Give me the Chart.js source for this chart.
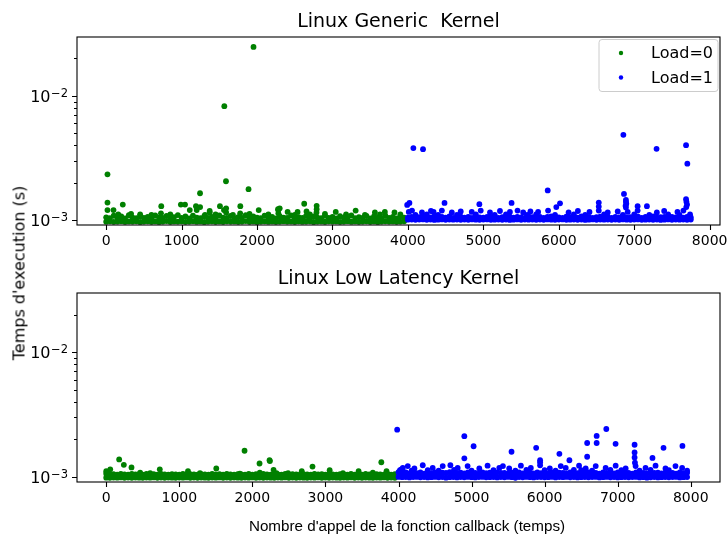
<!DOCTYPE html>
<html>
<head>
<meta charset="utf-8">
<script src="https://cdn.jsdelivr.net/npm/chart.js@4.4.0/dist/chart.umd.min.js"></script>
<style>
  body { margin: 0; background: #fff; width: 728px; height: 536px; position: relative; overflow: hidden; }
  canvas { position: absolute; left: 0; }
  #generic { top: 0; }
  #lowlat { top: 260px; }
  #ylabel { position: absolute; left: 19px; top: 273px; transform: translate(-50%, -50%) rotate(-90deg);
            font: 16px "DejaVu Sans"; white-space: nowrap; color: #000; }
  #xlabel { position: absolute; left: 407px; top: 525px; transform: translate(-50%, -50%);
            font: 15.2px "Liberation Sans"; white-space: nowrap; color: #000; }
</style>
</head>
<body>
<canvas id="generic" width="728" height="260"></canvas>
<canvas id="lowlat" width="728" height="276"></canvas>
<div id="ylabel">Temps d'execution (s)</div>
<div id="xlabel">Nombre d'appel de la fonction callback (temps)</div>
<script>
// execution times in microseconds, band rows sampled every 50 calls
const bandStep = 50;
const xTicks = [0, 1000, 2000, 3000, 4000, 5000, 6000, 7000, 8000];
const yTicks = [0.001, 0.002, 0.003, 0.004, 0.005, 0.006, 0.007, 0.008, 0.009, 0.01, 0.02, 0.03];
const yLabels = { '0.001': '\u22123', '0.01': '\u22122' };  // exponent shown after "10"

// Linux Generic Kernel, Load=0 (calls 0..3999)
const genericLoad0Low = [968,974,965,971,977,966,972,969,975,963,970,976,967,973,964,971,978,966,972,969,
  974,965,970,977,968,973,964,971,975,967,972,966,976,969,973,965,970,978,967,972,
  964,971,975,968,973,966,970,977,969,972,965,974,968,971,976,964,970,973,967,975,
  969,972,965,971,977,968,973,966,970,975,967,972,964,971,976,969,973,966,970,974];
const genericLoad0High = [1050,1035,1080,1040,1065,1030,1090,1045,1035,1070,1040,1060,1030,1085,1045,1040,1075,1035,1055,1095,
  1040,1065,1030,1080,1045,1035,1070,1040,1060,1030,1085,1045,1040,1075,1035,1055,1040,1090,1030,1065,
  1045,1035,1080,1040,1060,1030,1070,1045,1040,1085,1035,1055,1040,1075,1030,1065,1045,1035,1080,1040,
  1060,1030,1070,1045,1040,1085,1035,1055,1040,1075,1030,1065,1045,1035,1080,1040,1060,1030,1070,1045];
const genericLoad0Extra = [[17,2330],[1953,24800],[1566,8250],[1588,2050],[1244,1640],[1887,1770],
  [17,1380],[220,1330],[990,1330],[1045,1330],[730,1290],[1190,1290],[1245,1270],[1508,1290],[1590,1240],
  [1778,1290],[2625,1350],[2790,1300],[2790,1220],[2278,1220],[2300,1240],
  [17,1200],[97,1200],[1108,1200],[1200,1200],[1372,1180],[1561,1200],[2022,1200],[2282,1200],[2405,1160],
  [2537,1160],[2656,1170],[2788,1150],[3043,1160],[3307,1190],[3562,1150],[3694,1160],[3822,1150],
  [726,1130],[1776,1130],[2282,1130],[1590,1150],[1372,1150],
  [160,1110],[330,1120],[450,1110],[600,1100],[850,1110],[1310,1100],[1450,1110],[1680,1100],[1900,1120],
  [2150,1110],[2500,1100],[2700,1110],[2900,1120],[3180,1110],[3430,1100],[3630,1110],[3900,1110]];

// Linux Generic Kernel, Load=1 (calls 4000..7750)
const genericLoad1Low = [1004,1008,1001,1006,1010,1003,1007,1000,1005,1009,1002,1006,1004,1008,1001,1007,1003,1010,1005,1002,
  1006,1009,1001,1004,1008,1003,1007,1000,1005,1009,1002,1006,1004,1008,1001,1007,1003,1010,1005,1002,
  1006,1009,1001,1004,1008,1003,1007,1000,1005,1009,1002,1006,1004,1008,1001,1007,1003,1010,1005,1002,
  1006,1009,1001,1004,1008,1003,1007,1000,1005,1009,1002,1006,1004,1008,1001,1007];
const genericLoad1High = [1045,1060,1040,1055,1070,1042,1050,1065,1040,1058,1045,1068,1040,1052,1062,1044,1056,1040,1066,1048,
  1042,1060,1050,1070,1040,1055,1045,1064,1042,1058,1048,1040,1066,1052,1044,1060,1040,1056,1068,1045,
  1050,1040,1062,1048,1055,1042,1066,1045,1058,1040,1052,1064,1044,1056,1040,1060,1048,1070,1042,1055,
  1045,1062,1040,1058,1050,1066,1044,1052,1060,1040,1056,1048,1065,1045,1058,1050];
const genericLoad1Extra = [[4072,3790],[4200,3720],[6856,4850],[7296,3740],[7687,4000],[7704,2840],[5853,1730],[6864,1620],
  [6890,1450],[6890,1400],[6895,1350],[6885,1300],[6890,1260],[7687,1470],[7692,1400],[7700,1330],[7690,1270],
  [4020,1370],[3990,1320],[4485,1370],[4947,1340],[5374,1370],[6016,1360],[5967,1270],[6530,1380],[6530,1280],
  [7045,1290],[7168,1290],
  [4011,1160],[4054,1190],[4186,1150],[4305,1180],[4340,1160],[4450,1190],[4582,1150],[4700,1170],[4846,1160],
  [4965,1190],[5088,1150],[5220,1180],[5352,1160],[5453,1190],[5528,1150],[5624,1170],[5726,1160],[5858,1190],
  [6130,1150],[6253,1180],[6407,1160],[6530,1190],[6649,1150],[6781,1170],[6913,1160],[7045,1190],[7300,1150],
  [7397,1180],[7573,1160],[7652,1190],
  [4100,1100],[4250,1110],[4400,1100],[4650,1100],[4900,1110],[5150,1100],[5300,1110],[5580,1100],[5700,1110],
  [5950,1100],[6200,1110],[6350,1100],[6600,1110],[6850,1100],[7000,1110],[7200,1100],[7450,1110],[7600,1100],[7740,1110]];

// Linux Low Latency Kernel, Load=0 (calls 0..3999)
const lowLatLoad0Low = [986,983,988,985,990,984,987,982,989,986,983,988,985,990,984,987,982,989,986,983,
  988,985,990,984,987,982,989,986,983,988,985,990,984,987,982,989,986,983,988,985,
  990,984,987,982,989,986,983,988,985,990,984,987,982,989,986,983,988,985,990,984,
  987,982,989,986,983,988,985,990,984,987,982,989,986,983,988,985,990,984,987,982];
const lowLatLoad0High = [1060,1045,1052,1040,1058,1048,1042,1055,1046,1050,1040,1056,1044,1050,1042,1058,1046,1040,1053,1048,
  1044,1056,1042,1050,1046,1040,1054,1048,1043,1057,1045,1050,1040,1055,1047,1042,1052,1046,1040,1056,
  1044,1050,1042,1058,1046,1040,1053,1048,1044,1056,1042,1050,1046,1040,1054,1048,1043,1057,1045,1050,
  1040,1055,1047,1042,1052,1046,1040,1056,1044,1050,1042,1058,1046,1040,1053,1048,1044,1056,1042,1050];
const lowLatLoad0Extra = [[177,1380],[241,1250],[346,1190],[1893,1620],[2098,1280],[2235,1360],[2240,1340],[2290,1140],
  [3765,1310],[2823,1210],[733,1150],[55,1150],[0,1110],[1506,1170],[1119,1110],[2676,1110],[3058,1130],
  [3454,1110],[3836,1110],
  [464,1080],[601,1070],[1283,1070],[1829,1060],[2102,1080],[2330,1070],[2489,1070],[3240,1070],[3649,1080]];

// Linux Low Latency Kernel, Load=1 (calls 4000..7999)
const lowLatLoad1Low = [1000,994,998,991,996,1000,993,997,990,995,999,992,996,985,994,998,991,997,993,1000,
  995,990,996,999,992,994,998,991,996,993,1000,995,984,997,992,999,994,990,996,998,
  993,995,1000,991,997,994,999,992,996,990,995,998,993,997,1000,991,994,999,992,996,
  990,995,998,993,997,1000,991,994,986,992,996,990,995,998,993,997,1000,991,994,996];
const lowLatLoad1High = [1090,1075,1085,1065,1080,1070,1088,1062,1078,1072,1085,1066,1080,1074,1090,1064,1076,1082,1068,1086,
  1072,1078,1062,1084,1070,1080,1066,1088,1074,1078,1064,1082,1070,1086,1068,1076,1080,1065,1084,1072,
  1078,1066,1088,1070,1082,1074,1064,1086,1076,1070,1080,1068,1084,1072,1078,1062,1086,1074,1080,1066,
  1088,1070,1082,1076,1064,1084,1072,1078,1068,1086,1074,1080,1066,1082,1070,1078,1064,1084,1072,1080];
const lowLatLoad1Extra = [[3982,2390],[4901,2120],[5028,1760],[4901,1410],[5547,1590],[5884,1710],[5938,1360],[5938,1310],
  [6202,1530],[6339,1360],[6582,1870],[6582,1450],[6712,2130],[6712,1870],[6844,2420],[6971,1840],[7231,1810],
  [7231,1570],[7231,1430],[7236,1300],[7476,1420],[7627,1710],[7886,1770],
  [4059,1180],[4127,1220],[4218,1170],[4332,1240],[4468,1180],[4605,1220],[4710,1240],[4810,1180],[4946,1220],
  [5106,1170],[5219,1230],[5379,1180],[5429,1220],[5515,1170],[5675,1230],[5811,1180],[5938,1240],[6071,1170],
  [6221,1220],[6289,1180],[6471,1230],[6562,1170],[6699,1220],[6835,1180],[6972,1230],[7109,1170],[7245,1220],
  [7381,1180],[7518,1230],[7654,1170],[7791,1220],[7882,1180],
  [4020,1130],[4040,1150],[4180,1120],[4400,1130],[4550,1120],[4760,1140],[5000,1120],[5300,1130],[5600,1120],
  [5750,1140],[6000,1130],[6150,1120],[6400,1140],[6500,1130],[6650,1120],[6900,1140],[7050,1130],[7300,1120],
  [7450,1140],[7700,1130],[7950,1120]];

function buildPoints(start, low, high, extra) {
  const pts = [];
  low.forEach((v, i) => pts.push({ x: start + i * bandStep, y: v / 1e6 }));
  high.forEach((v, i) => pts.push({ x: start + i * bandStep, y: v / 1e6 }));
  extra.forEach(p => pts.push({ x: p[0], y: p[1] / 1e6 }));
  return pts;
}

const axesDecor = {
  id: 'axesDecor',
  afterDraw(chart, args, opts) {
    const ctx = chart.ctx;
    const a = chart.chartArea;
    const x = chart.scales.x, y = chart.scales.y;
    ctx.save();
    ctx.strokeStyle = '#000';
    ctx.lineWidth = 1.1;
    ctx.strokeRect(a.left, a.top, a.right - a.left, a.bottom - a.top);
    ctx.beginPath();
    xTicks.forEach(v => {
      const px = Math.round(x.getPixelForValue(v)) + 0.5;
      ctx.moveTo(px, a.bottom); ctx.lineTo(px, a.bottom + 5);
    });
    yTicks.forEach(v => {
      if (v < y.min || v > y.max) return;
      const py = Math.round(y.getPixelForValue(v)) + 0.5;
      const len = yLabels[String(v)] ? 5 : 3;
      ctx.moveTo(a.left, py); ctx.lineTo(a.left - len, py);
    });
    ctx.stroke();

    // log tick labels: "10" with a raised exponent
    ctx.fillStyle = '#000';
    ctx.textBaseline = 'alphabetic';
    yTicks.forEach(v => {
      const sup = yLabels[String(v)];
      if (!sup) return;
      const py = y.getPixelForValue(v);
      const right = a.left - 9;
      ctx.font = '11.5px "DejaVu Sans"';
      const supW = ctx.measureText(sup).width;
      ctx.textAlign = 'left';
      ctx.fillText(sup, right - supW, py + 1);
      ctx.font = '16px "DejaVu Sans"';
      ctx.textAlign = 'right';
      ctx.fillText('10', right - supW - 0.5, py + 6);
    });

    ctx.font = '19px "DejaVu Sans"';
    ctx.textAlign = 'center';
    ctx.fillText(opts.title, (a.left + a.right) / 2, opts.titleY);

    if (opts.legend) {
      const bx = a.right - 121, by = a.top + 2.5, bw = 119, bh = 52;
      ctx.beginPath();
      ctx.roundRect(bx, by, bw, bh, 3);
      ctx.fillStyle = 'rgba(255,255,255,0.8)';
      ctx.fill();
      ctx.strokeStyle = '#cccccc';
      ctx.lineWidth = 1;
      ctx.stroke();
      const items = [['Load=0', '#008000'], ['Load=1', '#0000ff']];
      ctx.font = '16px "DejaVu Sans"';
      ctx.textAlign = 'left';
      ctx.textBaseline = 'middle';
      items.forEach((it, i) => {
        const cy = by + 13.5 + i * 24.5;
        ctx.beginPath();
        ctx.arc(bx + 22, cy, 2.2, 0, Math.PI * 2);
        ctx.fillStyle = it[1];
        ctx.fill();
        ctx.fillStyle = '#000';
        ctx.fillText(it[0], bx + 52, cy + 1);
      });
    }
    ctx.restore();
  }
};

Chart.defaults.color = '#000';
Chart.defaults.font.family = '"DejaVu Sans"';
Chart.defaults.font.size = 14;

function makeChart(id, cfg) {
  return new Chart(document.getElementById(id), {
    type: 'scatter',
    data: {
      datasets: [
        { label: 'Load=1', data: cfg.load1, backgroundColor: '#0000ff' },
        { label: 'Load=0', data: cfg.load0, backgroundColor: '#008000' }
      ]
    },
    options: {
      responsive: false,
      animation: false,
      devicePixelRatio: 1,
      events: [],
      layout: { padding: { top: cfg.padTop, right: 8, left: 0, bottom: 0 } },
      elements: { point: { radius: 2.9, borderWidth: 0, hoverRadius: 2.9 } },
      plugins: {
        legend: { display: false },
        tooltip: { enabled: false },
        axesDecor: { title: cfg.title, titleY: cfg.titleY, legend: cfg.legend }
      },
      scales: {
        x: {
          type: 'linear', min: cfg.xMin, max: cfg.xMax,
          grid: { display: false, drawTicks: false },
          border: { display: false },
          afterBuildTicks: s => { s.ticks = xTicks.map(v => ({ value: v })); },
          afterFit: s => { s.height = cfg.xHeight; s.paddingLeft = 0; s.paddingRight = 0; },
          ticks: { autoSkip: false, maxRotation: 0, padding: 8, callback: v => String(v) }
        },
        y: {
          type: 'logarithmic', min: 0.00091, max: 0.0298,
          grid: { display: false, drawTicks: false },
          border: { display: false },
          afterBuildTicks: s => { s.ticks = yTicks.map(v => ({ value: v })); },
          afterFit: s => { s.width = 77; s.paddingTop = 0; s.paddingBottom = 0; },
          ticks: { display: false }
        }
      }
    },
    plugins: [axesDecor]
  });
}

makeChart('generic', {
  title: 'Linux Generic  Kernel', titleY: 27, legend: true, padTop: 37, xHeight: 35,
  xMin: -387, xMax: 8137,
  load0: buildPoints(0, genericLoad0Low, genericLoad0High, genericLoad0Extra),
  load1: buildPoints(4000, genericLoad1Low, genericLoad1High, genericLoad1Extra)
});

makeChart('lowlat', {
  title: 'Linux Low Latency Kernel', titleY: 24, legend: false, padTop: 33, xHeight: 54,
  xMin: -400, xMax: 8400,
  load0: buildPoints(0, lowLatLoad0Low, lowLatLoad0High, lowLatLoad0Extra),
  load1: buildPoints(4000, lowLatLoad1Low, lowLatLoad1High, lowLatLoad1Extra)
});
</script>
</body>
</html>
